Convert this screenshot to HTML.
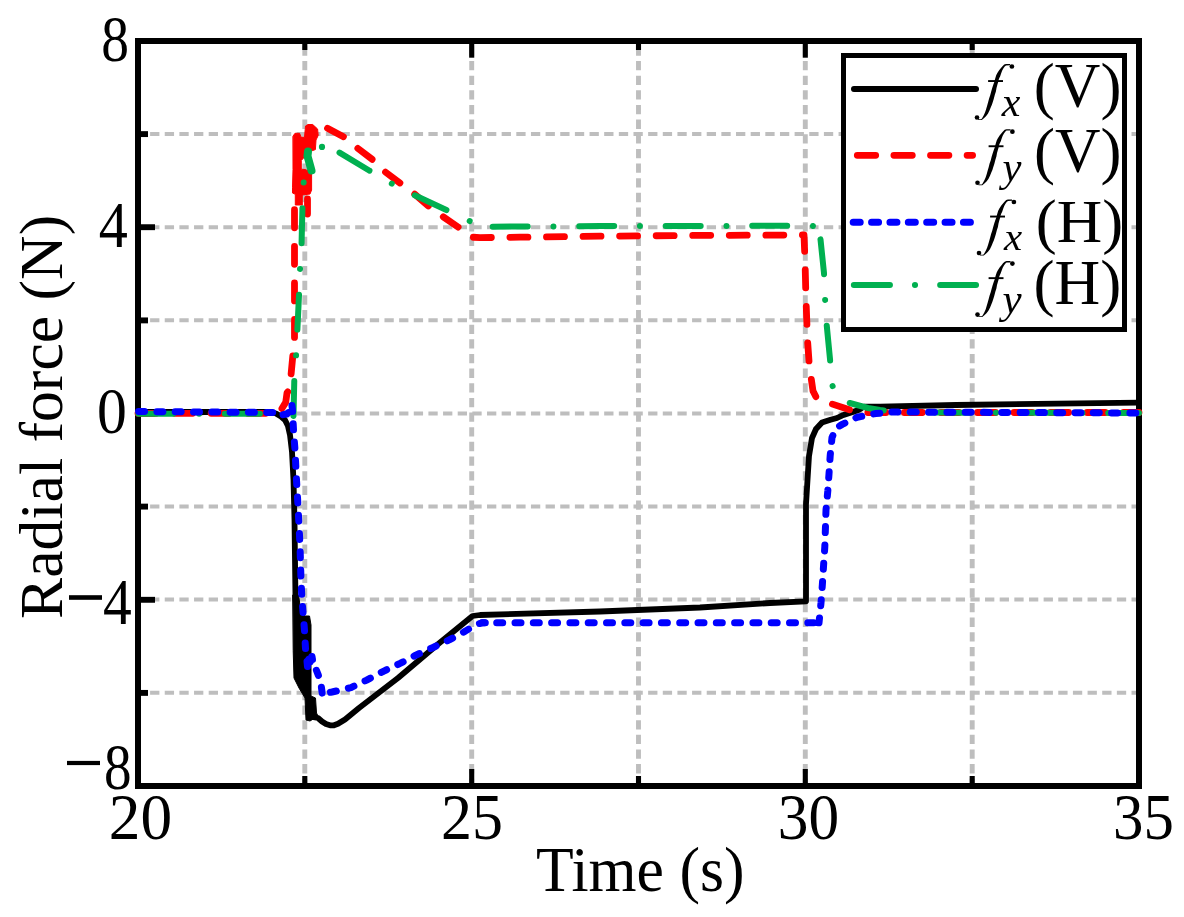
<!DOCTYPE html>
<html><head><meta charset="utf-8">
<style>
html,body{margin:0;padding:0;background:#fff;}
body{width:1184px;height:917px;overflow:hidden;}
svg{display:block;}
text{font-family:"Liberation Serif",serif;fill:#000;}
</style></head><body>
<svg width="1184" height="917" viewBox="0 0 1184 917">
<rect x="0" y="0" width="1184" height="917" fill="#fff"/>
<g stroke="#bebebe" stroke-dasharray="9.3 5.348" fill="none">
<line x1="135.45" y1="134.0" x2="1139" y2="134.0" stroke-width="4"/>
<line x1="135.45" y1="227.2" x2="1139" y2="227.2" stroke-width="4"/>
<line x1="135.45" y1="320.3" x2="1139" y2="320.3" stroke-width="4"/>
<line x1="135.45" y1="413.4" x2="1139" y2="413.4" stroke-width="4"/>
<line x1="135.45" y1="506.5" x2="1139" y2="506.5" stroke-width="4"/>
<line x1="135.45" y1="599.6" x2="1139" y2="599.6" stroke-width="4"/>
<line x1="135.45" y1="692.8" x2="1139" y2="692.8" stroke-width="4"/>
<line x1="304.8" y1="46.35" x2="304.8" y2="786" stroke-width="4.9"/>
<line x1="471.7" y1="46.35" x2="471.7" y2="786" stroke-width="4.9"/>
<line x1="638.5" y1="46.35" x2="638.5" y2="786" stroke-width="4.9"/>
<line x1="805.3" y1="46.35" x2="805.3" y2="786" stroke-width="4.9"/>
<line x1="972.2" y1="46.35" x2="972.2" y2="786" stroke-width="4.9"/>
</g>
<rect x="138" y="41" width="1001" height="745" fill="none" stroke="#000" stroke-width="6"/>
<g stroke="#000">
<line x1="138" y1="134.1" x2="148" y2="134.1" stroke-width="5.9"/>
<line x1="138" y1="227.2" x2="155" y2="227.2" stroke-width="5.9"/>
<line x1="138" y1="320.4" x2="148" y2="320.4" stroke-width="5.9"/>
<line x1="138" y1="413.5" x2="155" y2="413.5" stroke-width="5.9"/>
<line x1="138" y1="506.6" x2="148" y2="506.6" stroke-width="5.9"/>
<line x1="138" y1="599.8" x2="155" y2="599.8" stroke-width="5.9"/>
<line x1="138" y1="692.9" x2="148" y2="692.9" stroke-width="5.9"/>
<line x1="304.8" y1="786" x2="304.8" y2="776" stroke-width="5.1"/>
<line x1="304.8" y1="41" x2="304.8" y2="50" stroke-width="5.1"/>
<line x1="471.7" y1="786" x2="471.7" y2="769" stroke-width="5.1"/>
<line x1="471.7" y1="41" x2="471.7" y2="57.7" stroke-width="5.1"/>
<line x1="638.5" y1="786" x2="638.5" y2="776" stroke-width="5.1"/>
<line x1="638.5" y1="41" x2="638.5" y2="50" stroke-width="5.1"/>
<line x1="805.3" y1="786" x2="805.3" y2="769" stroke-width="5.1"/>
<line x1="805.3" y1="41" x2="805.3" y2="57.7" stroke-width="5.1"/>
<line x1="972.2" y1="786" x2="972.2" y2="776" stroke-width="5.1"/>
<line x1="972.2" y1="41" x2="972.2" y2="50" stroke-width="5.1"/>
</g>
<g fill="none" stroke-linejoin="round" stroke-linecap="round">
<path d="M138,412 L270,412 L276,413.5 L281,416.5 L285,420 L288,426 L290,435 L292,452 L293.5,480 L294.5,520 L295,560 L295.5,600" stroke="#000" stroke-width="5.8"/>
<path d="M293,595 L298.5,595 L301,612 L305,616 L309.5,616 L311,625 L311,696 L315.5,698 L316.5,713 L318,716 L310,721 L306,720 L305,698 L299,688 L294,678 L293.2,651Z" fill="#000" stroke="#000" stroke-width="1"/>
<path d="M312,717 L318,718 L322,721.5 L326,724 L330,725.3 L334,725.3 L338,723.8 L345,719.5 L359,708 L398,678 L437,645 L472.5,616 L480,615 L600,611.5 L700,607.5 L770,603 L806,601.3 L806,504 L809,456 L812,438 L816,429 L822,422.5 L830.5,419.8 L837,418 L842,415.6 L852,412.2 L859,409.7 L864,406.6 L880,406.6 L956,405 L1139,402.6" stroke="#000" stroke-width="5.8"/>
<path d="M138,413.3 L278,413.3 L281,410 L285.7,402.4 L287,393 L289,390 L291,375 L293,354 L294.5,340 L294.5,206" stroke="#ff0000" stroke-width="6.8" stroke-dasharray="18 18.56" stroke-dashoffset="0.00"/>
<path d="M293.1,136 L295,133.3 L299.6,133.3 L301,137 L304.5,137.5 L305.5,126 L308,124.5 L312.7,124.5 L317.6,129 L318.2,135.4 L316,140 L315.4,149.6 L312.2,150.7 L305,150 L303.5,158 L301.3,160.5 L301.3,169.2 L305,169.5 L311.6,172 L311.6,190 L310,194 L302.3,195 L302.3,205 L295.3,205 L295.3,194.3 L292.5,193 L292.5,187.8 L293,170Z" fill="#ff0000" stroke="#ff0000" stroke-width="1"/>
<path d="M307.5,199 L307.5,214" stroke="#ff0000" stroke-width="6.8"/>
<path d="M318,127 L326,127.5 L344,137 L356,147 L373,160 L384,171 L402,184.5 L414,193.6 L429,206.6 L442,216 L458,227 L466,233 L472,237.2 L480,237.6 L520,237.2 L600,236.2 L700,235.4 L804,235 L805,260 L806,300 L807.5,340 L809,361 L811,377 L813,391 L816,397 L822,401 L832,404 L850,410 L864,412.5 L880,412.5 L1139,412.5" stroke="#ff0000" stroke-width="6.8" stroke-dasharray="18 18.56" stroke-dashoffset="26.85"/>
<path d="M138,413.8 L288,413.8" stroke="#00b050" stroke-width="6.0" stroke-dasharray="35 25.75 0.001 25.75" stroke-dashoffset="86.10"/>
<path d="M288,413.8 L293.5,416 L294.3,380 L296,357 L297.3,331.5 L299,295 L300,269.6 L301.5,246 L302.4,209 L303.6,183.4 L304.5,170" stroke="#00b050" stroke-width="6.0" stroke-dasharray="35 25.75 0.001 25.75" stroke-dashoffset="80.58"/>
<path d="M339.5,152.6 L369.2,170.5 L391.5,183.4 L413,194.5 L447,210.3 L468.6,220.6 L478,225 L485,226.7" stroke="#00b050" stroke-width="6.0" stroke-dasharray="35 25.75 0.001 25.75" stroke-dashoffset="0.00"/>
<circle cx="322" cy="146.9" r="3.1" fill="#00b050"/>
<path d="M308,151.5 L307.5,156 L311.5,170.5" stroke="#00b050" stroke-width="8"/>
<path d="M485,226.7 L540,226.5 L600,226 L812,225.8 L815,226.5" stroke="#00b050" stroke-width="6.0" stroke-dasharray="35 25.75 0.001 25.75" stroke-dashoffset="78.80"/>
<path d="M812,226 L818,229 L820.5,239.4 L824,273 L825,298 L826.5,323 L830,359 L832,384.4 L836,395 L841,399.5 L846,402 L868,408 L880,410 L900,412.5 L1139,413" stroke="#00b050" stroke-width="6.0" stroke-dasharray="35 25.75 0.001 25.75" stroke-dashoffset="69.10"/>
<path d="M138,411.5 L275,412.5" stroke="#0000ff" stroke-width="7.0" stroke-dasharray="6 12.3" stroke-dashoffset="17.70"/>
<path d="M275,412.5 L281,415 L287,414 L291,410 L291.7,403.5 L292.5,410 L293,420 L293.6,432 L295,450 L296.5,480 L298,506 L300,545 L301,580 L302,600 L303,612 L304.4,629 L305.5,648.6" stroke="#0000ff" stroke-width="7.0" stroke-dasharray="6 12.3" stroke-dashoffset="9.72"/>
<path d="M330.5,692.3 L332,692 L351,687.6 L366.7,680.1 L383.4,671.3 L400.1,663.4 L415.8,655.2 L432.5,647.7 L449.2,639.9 L464.9,631.4 L476,624.5 L482,622.8 L490,622.8" stroke="#0000ff" stroke-width="7.0" stroke-dasharray="6 12.3" stroke-dashoffset="0.00"/>
<path d="M312,656.5 L312.5,659.5" stroke="#0000ff" stroke-width="7.0"/>
<path d="M307,661.5 L307.5,666.5" stroke="#0000ff" stroke-width="7.0"/>
<path d="M309,659 L310,662" stroke="#0000ff" stroke-width="7.0"/>
<path d="M316.4,670.3 L318.4,675.4" stroke="#0000ff" stroke-width="7.0"/>
<path d="M321.4,687.3 L322.2,693.1" stroke="#0000ff" stroke-width="7.0"/>
<path d="M482,622.8 L819,622.8" stroke="#0000ff" stroke-width="7.0" stroke-dasharray="6 12.3" stroke-dashoffset="3.60"/>
<path d="M812,622.8 L819,622.8 L821,603 L822.4,584 L823.6,565 L824.8,547 L825.4,529 L826,510 L827.8,491 L829,474 L830.2,455.6 L832,437.6 L836,428 L842.2,424.4 L857.2,417.2 L876,413.5 L892,412 L1139,413" stroke="#0000ff" stroke-width="7.0" stroke-dasharray="6 12.3" stroke-dashoffset="12.38"/>
</g>
<text transform="translate(101.16,60.90) scale(0.8944,1.0488)" font-size="62" font-style="normal">8</text>
<text transform="translate(98.86,246.90) scale(0.9379,1.0500)" font-size="62" font-style="normal">4</text>
<text transform="translate(97.07,432.70) scale(0.9630,1.0475)" font-size="62" font-style="normal">0</text>
<rect x="69" y="595.2" width="33" height="4.6" fill="#000"/>
<text transform="translate(103.07,623.80) scale(0.9276,1.0450)" font-size="62" font-style="normal">4</text>
<rect x="67" y="760.9" width="33" height="4.2" fill="#000"/>
<text transform="translate(104.02,788.90) scale(0.8889,1.0475)" font-size="62" font-style="normal">8</text>
<text transform="translate(108.84,838.90) scale(1.0211,1.0500)" font-size="62" font-style="normal">20</text>
<text transform="translate(441.00,838.90) scale(1.0000,1.0475)" font-size="62" font-style="normal">25</text>
<text transform="translate(777.83,838.90) scale(0.9895,1.0475)" font-size="62" font-style="normal">30</text>
<text transform="translate(1112.95,839.00) scale(0.9825,1.0500)" font-size="62" font-style="normal">35</text>
<text transform="translate(535.90,890.81) scale(0.9956,1.0145)" font-size="62" font-style="normal">Time (s)</text>
<text transform="translate(61.90,618.89) rotate(-90) scale(0.9948,1.0000)" font-size="62">Radial force (N)</text>
<rect x="843.5" y="55.5" width="281" height="274" fill="#fff" stroke="#000" stroke-width="5"/>
<g fill="none" stroke-linecap="round">
<line x1="853.95" y1="89" x2="976.05" y2="89" stroke="#000" stroke-width="5.9"/>
<line x1="857.3" y1="155.3" x2="972.6" y2="155.3" stroke="#ff0000" stroke-width="6.8" stroke-dasharray="18.4 18.2"/>
<line x1="853.2" y1="222.3" x2="970.4" y2="222.3" stroke="#0000ff" stroke-width="7" stroke-dasharray="7.0 11.37"/>
<line x1="853.9" y1="285" x2="976" y2="285" stroke="#00b050" stroke-width="6.1" stroke-dasharray="36 25.1 0.001 25.2"/>

</g>
<path d="M1006.00,64.00 L1004.20,64.60 L1002.50,66.20 L1001.40,67.60 L999.30,70.10 L997.20,73.30 L996.20,75.30 L995.20,78.50 L994.30,82.00 L993.20,85.00 L992.20,88.00 L991.20,91.40 L990.20,95.20 L989.10,98.40 L988.10,102.20 L987.20,105.40 L986.10,109.20 L985.10,112.30 L983.90,115.10 L982.10,118.30 L981.20,119.20 L978.00,119.20 L978.00,120.00 L981.80,120.00 L983.90,118.20 L986.00,116.20 L987.90,113.70 L989.60,110.30 L990.90,107.10 L991.90,104.70 L992.80,101.90 L993.80,98.70 L994.90,94.50 L995.90,91.40 L996.50,87.90 L997.30,85.10 L998.10,82.30 L998.60,79.90 L999.30,78.10 L1000.20,76.20 L1001.10,73.60 L1002.10,70.80 L1003.30,68.60 L1004.70,66.60 L1006.00,65.40 L1010.00,65.30 L1010.00,64.00Z" fill="#000"/><circle cx="1011.90" cy="66.50" r="2.35" fill="#000"/><circle cx="977.00" cy="117.50" r="2.3" fill="#000"/><rect x="988.10" y="80.10" width="14.9" height="1.9" fill="#000"/>
<g style="filter:grayscale(1)"><text transform="translate(1001.68,116.10) scale(0.6786,0.6536)" font-size="62" font-style="italic">x</text></g>
<text transform="translate(1033.74,106.72) scale(1.0188,1.0218)" font-size="62" font-style="normal">(V)</text>
<path d="M1006.50,129.20 L1004.70,129.80 L1003.00,131.40 L1001.90,132.80 L999.80,135.30 L997.70,138.50 L996.70,140.50 L995.70,143.70 L994.80,147.20 L993.70,150.20 L992.70,153.20 L991.70,156.60 L990.70,160.40 L989.60,163.60 L988.60,167.40 L987.70,170.60 L986.60,174.40 L985.60,177.50 L984.40,180.30 L982.60,183.50 L981.70,184.40 L978.50,184.40 L978.50,185.20 L982.30,185.20 L984.40,183.40 L986.50,181.40 L988.40,178.90 L990.10,175.50 L991.40,172.30 L992.40,169.90 L993.30,167.10 L994.30,163.90 L995.40,159.70 L996.40,156.60 L997.00,153.10 L997.80,150.30 L998.60,147.50 L999.10,145.10 L999.80,143.30 L1000.70,141.40 L1001.60,138.80 L1002.60,136.00 L1003.80,133.80 L1005.20,131.80 L1006.50,130.60 L1010.50,130.50 L1010.50,129.20Z" fill="#000"/><circle cx="1012.40" cy="131.70" r="2.35" fill="#000"/><circle cx="977.50" cy="182.70" r="2.3" fill="#000"/><rect x="988.60" y="145.30" width="14.9" height="1.9" fill="#000"/>
<g style="filter:grayscale(1)"><text transform="translate(1002.54,180.87) scale(0.6875,0.6561)" font-size="62" font-style="italic">y</text></g>
<text transform="translate(1033.95,171.66) scale(1.0162,1.0109)" font-size="62" font-style="normal">(V)</text>
<path d="M1008.00,199.50 L1006.20,200.10 L1004.50,201.70 L1003.40,203.10 L1001.30,205.60 L999.20,208.80 L998.20,210.80 L997.20,214.00 L996.30,217.50 L995.20,220.50 L994.20,223.50 L993.20,226.90 L992.20,230.70 L991.10,233.90 L990.10,237.70 L989.20,240.90 L988.10,244.70 L987.10,247.80 L985.90,250.60 L984.10,253.80 L983.20,254.70 L980.00,254.70 L980.00,255.50 L983.80,255.50 L985.90,253.70 L988.00,251.70 L989.90,249.20 L991.60,245.80 L992.90,242.60 L993.90,240.20 L994.80,237.40 L995.80,234.20 L996.90,230.00 L997.90,226.90 L998.50,223.40 L999.30,220.60 L1000.10,217.80 L1000.60,215.40 L1001.30,213.60 L1002.20,211.70 L1003.10,209.10 L1004.10,206.30 L1005.30,204.10 L1006.70,202.10 L1008.00,200.90 L1012.00,200.80 L1012.00,199.50Z" fill="#000"/><circle cx="1013.90" cy="202.00" r="2.35" fill="#000"/><circle cx="979.00" cy="253.00" r="2.3" fill="#000"/><rect x="990.10" y="215.60" width="14.9" height="1.9" fill="#000"/>
<g style="filter:grayscale(1)"><text transform="translate(1003.96,249.60) scale(0.6607,0.6071)" font-size="62" font-style="italic">x</text></g>
<text transform="translate(1035.75,241.53) scale(1.0150,1.0055)" font-size="62" font-style="normal">(H)</text>
<path d="M1006.50,261.10 L1004.70,261.70 L1003.00,263.30 L1001.90,264.70 L999.80,267.20 L997.70,270.40 L996.70,272.40 L995.70,275.60 L994.80,279.10 L993.70,282.10 L992.70,285.10 L991.70,288.50 L990.70,292.30 L989.60,295.50 L988.60,299.30 L987.70,302.50 L986.60,306.30 L985.60,309.40 L984.40,312.20 L982.60,315.40 L981.70,316.30 L978.50,316.30 L978.50,317.10 L982.30,317.10 L984.40,315.30 L986.50,313.30 L988.40,310.80 L990.10,307.40 L991.40,304.20 L992.40,301.80 L993.30,299.00 L994.30,295.80 L995.40,291.60 L996.40,288.50 L997.00,285.00 L997.80,282.20 L998.60,279.40 L999.10,277.00 L999.80,275.20 L1000.70,273.30 L1001.60,270.70 L1002.60,267.90 L1003.80,265.70 L1005.20,263.70 L1006.50,262.50 L1010.50,262.40 L1010.50,261.10Z" fill="#000"/><circle cx="1012.40" cy="263.60" r="2.35" fill="#000"/><circle cx="977.50" cy="314.60" r="2.3" fill="#000"/><rect x="988.60" y="277.20" width="14.9" height="1.9" fill="#000"/>
<g style="filter:grayscale(1)"><text transform="translate(1002.57,313.37) scale(0.6937,0.6561)" font-size="62" font-style="italic">y</text></g>
<text transform="translate(1033.54,303.51) scale(1.0200,1.0145)" font-size="62" font-style="normal">(H)</text>
</svg>
</body></html>
